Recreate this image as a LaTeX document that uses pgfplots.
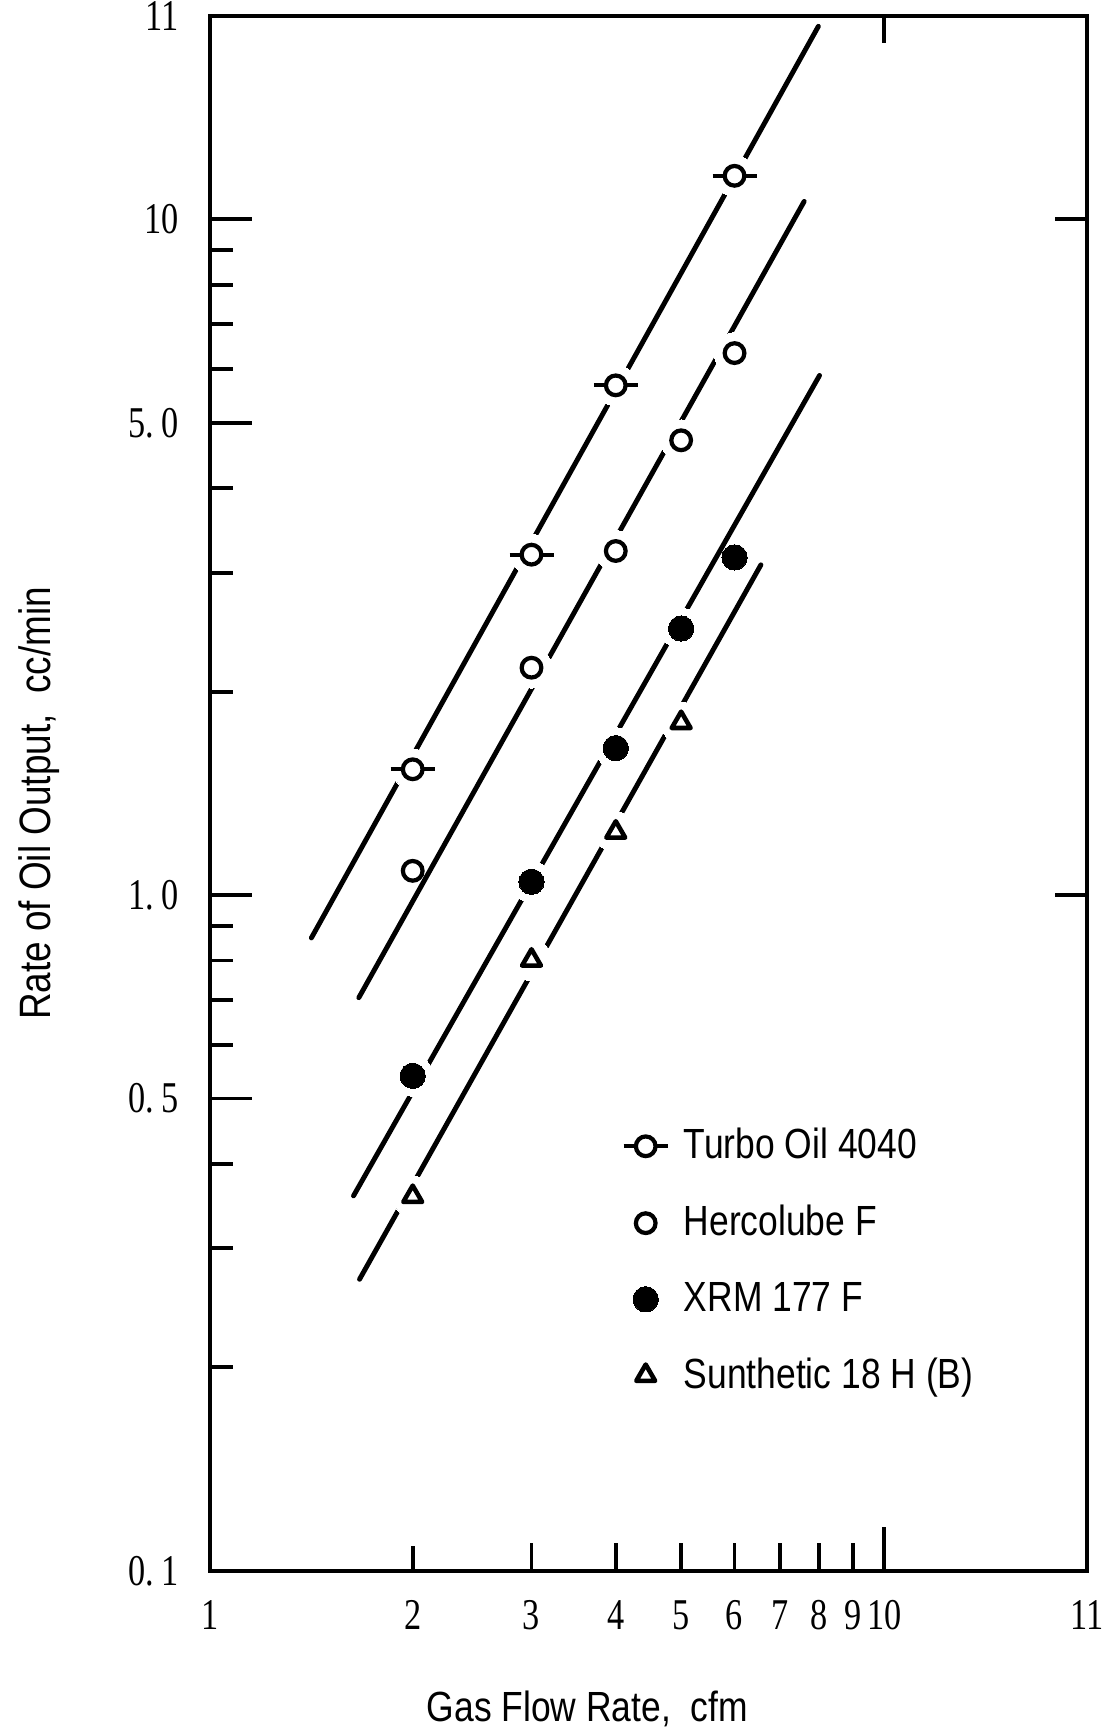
\documentclass[border=0pt]{standalone}
\usepackage{fontspec}
\setmainfont{Liberation Sans}[FakeStretch=0.84]
\newfontfamily\numfont{Liberation Serif}[FakeStretch=0.78]
\usepackage{pgfplots}
\pgfplotsset{compat=1.18}

% open circle with a horizontal bar through it
\pgfdeclareplotmark{barcircle}{%
  \pgfpathmoveto{\pgfqpoint{-0.22cm}{0pt}}%
  \pgfpathlineto{\pgfqpoint{0.22cm}{0pt}}%
  \pgfusepathqstroke
  \pgfpathcircle{\pgfpointorigin}{\pgfplotmarksize}%
  \pgfusepathqfillstroke
}

\begin{document}
\begin{tikzpicture}
\begin{axis}[
  scale only axis, width=8.775cm, height=15.547cm,
  xmode=log, ymode=log,
  xmin=1, xmax=20, ymin=0.1, ymax=20,
  axis line style={line width=1.2pt},
  xtick={1,2,3,4,5,6,7,8,9,10,20},
  xticklabels={1,2,3,4,5,6,7,8,9,10,11},
  ytick={0.1,0.5,1,5,10,20},
  yticklabels={0.\,1,0.\,5,1.\,0,5.\,0,10,11},
  major tick length=0pt,
  xminorticks=false, yminorticks=false,
  tick style={draw=none},
  xticklabel style={font=\numfont\fontsize{12.5}{12.5}\selectfont, anchor=north, inner sep=0pt, yshift=-0.29cm},
  yticklabel style={font=\numfont\fontsize{12.5}{12.5}\selectfont, anchor=east, inner sep=0pt, xshift=-0.30cm},
  clip=false,
  legend cell align=left,
  legend style={draw=none, fill=none, font=\fontsize{12}{13}\selectfont,
    at={(rel axis cs:0.459,0.294)}, anchor=north west, row sep=0.27cm,
    nodes={inner xsep=0.46em}},
]
% fitted lines
\addplot[line width=1.4pt, line cap=round, forget plot] coordinates {(1.415,0.864) (7.99,19.31)};
\addplot[line width=1.4pt, line cap=round, forget plot] coordinates {(1.664,0.705) (7.61,10.63)};
\addplot[line width=1.4pt, line cap=round, forget plot] coordinates {(1.634,0.3588) (8.02,5.875)};
\addplot[line width=1.4pt, line cap=round, forget plot] coordinates {(1.668,0.270) (6.565,3.081)};
% white gaps where the lines pass the points
\addplot[only marks, mark=*, mark size=5.8pt, mark options={draw=white, fill=white, line width=0pt}, forget plot] coordinates {
  (2,1.535) (3,3.19) (4,5.68) (6,11.6)
  (3,2.17) (4,3.23) (5,4.71) (6,6.34)
  (2,0.540) (3,1.046) (4,1.65) (5,2.48)
  (2,0.358) (3,0.801) (4,1.239) (5,1.80)};
% measured points
\addplot[only marks, mark=barcircle, mark size=2.8pt, mark options={line width=1.2pt, fill=white, draw=black}]
  coordinates {(2,1.535) (3,3.19) (4,5.68) (6,11.6)};
\addlegendentry{Turbo Oil 4040}
\addplot[only marks, mark=o, mark size=2.8pt, mark options={line width=1.2pt}]
  coordinates {(2,1.086) (3,2.17) (4,3.23) (5,4.71) (6,6.34)};
\addlegendentry{Hercolube F}
\addplot[only marks, mark=*, mark size=3.6pt, mark options={draw=black, fill=black, line width=0pt}]
  coordinates {(2,0.540) (3,1.046) (4,1.65) (5,2.48) (6,3.16)};
\addlegendentry{XRM 177 F}
\addplot[only marks, mark=triangle, mark size=3.1pt, mark options={line width=1.3pt, line join=round}]
  coordinates {(2,0.358) (3,0.801) (4,1.239) (5,1.80)};
\addlegendentry{Sunthetic 18 H (B)}
% inward ticks
\pgfplotsinvokeforeach{0.2,0.3,0.4,0.6,0.7,0.8,0.9,2,3,4,6,7,8,9}{\draw[line width=1.1pt] (axis cs:1,#1) -- ++(0.23cm,0pt);}
\pgfplotsinvokeforeach{0.5,1,5,10}{\draw[line width=1.1pt] (axis cs:1,#1) -- ++(0.42cm,0pt);}
\pgfplotsinvokeforeach{1,10}{\draw[line width=1.1pt] (axis cs:20,#1) -- ++(-0.32cm,0pt);}
\draw[line width=1.1pt] (axis cs:10,20) -- ++(0pt,-0.27cm);
\draw[line width=1.1pt] (axis cs:2,0.1) -- ++(0pt,0.25cm);
\pgfplotsinvokeforeach{3,4,5,6,7,8,9}{\draw[line width=1.1pt] (axis cs:#1,0.1) -- ++(0pt,0.28cm);}
\draw[line width=1.1pt] (axis cs:10,0.1) -- ++(0pt,0.44cm);
% axis titles
\node[rotate=90, font=\fontsize{12.5}{13}\selectfont] at ([xshift=-1.71cm]rel axis cs:0,0.4934) {Rate of Oil Output,\ \ cc/min};
\node[font=\fontsize{12}{13}\selectfont] at ([yshift=-1.38cm]rel axis cs:0.4302,0) {Gas Flow Rate,\ \ cfm};
\coordinate (SW) at (rel axis cs:0,0);
\coordinate (NE) at (rel axis cs:1,1);
\end{axis}
\pgfresetboundingbox
\path ([shift={(-2.097cm,-1.603cm)}]SW) rectangle ([shift={(0.298cm,0.16cm)}]NE);
\end{tikzpicture}
\end{document}
